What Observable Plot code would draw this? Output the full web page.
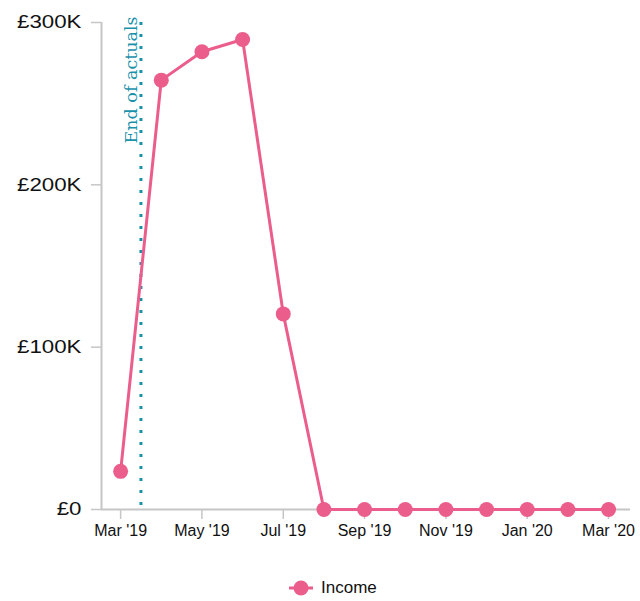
<!DOCTYPE html>
<html>
<head>
<meta charset="utf-8">
<script src="https://cdn.jsdelivr.net/npm/d3@7"></script>
<script src="https://cdn.jsdelivr.net/npm/@observablehq/plot@0.6"></script>
<style>
  html, body { margin: 0; padding: 0; background: #fff; }
  #chart { width: 640px; }
  .legend { display: flex; align-items: center; margin: 26px 0 0 288px; height: 24px;
            font: 17px "Liberation Sans", Arial, sans-serif; color: #111; }
  .legend svg { margin-right: 7px; }
</style>
</head>
<body>
<div id="chart"></div>
<div class="legend">
  <svg width="26" height="18"><line x1="1" x2="25" y1="9" y2="9" stroke="#eb5d8b" stroke-width="3"/><circle cx="13" cy="9" r="7.5" fill="#eb5d8b"/></svg>
  <span>Income</span>
</div>
<script>
// Monthly income, March 2019 to March 2020 (one point per month, evenly spaced)
const months = ["Mar '19", "Apr '19", "May '19", "Jun '19", "Jul '19", "Aug '19", "Sep '19",
                "Oct '19", "Nov '19", "Dec '19", "Jan '20", "Feb '20", "Mar '20"];
const income = [23500, 264500, 282000, 289500, 120500, 0, 0, 0, 0, 0, 0, 0, 0];

// Axis ticks: every other month, and the income scale
const xTickMonths = ["Mar '19", "May '19", "Jul '19", "Sep '19", "Nov '19", "Jan '20", "Mar '20"];
const yTicks = [0, 100000, 200000, 300000];

// Actual figures stop half-way through March 2019
const actualsEndMonth = "Mar '19";
const actualsEndOffset = 0.5;
const actualsLabel = "End of actuals";

const pink = "#eb5d8b";
const teal = "#1a91ab";
const axisGrey = "#c6c6c6";

const monthIndex = m => months.indexOf(m);
const rows = months.map((m, i) => ({month: i, value: income[i]}));
const actualsEnd = monthIndex(actualsEndMonth) + actualsEndOffset;
const xDomain = [-0.47, 12.54];

const chart = Plot.plot({
  width: 640,
  height: 550,
  marginLeft: 101,
  marginRight: 10,
  marginTop: 22,
  marginBottom: 41,
  style: {fontFamily: '"Liberation Sans", Arial, sans-serif', fontSize: "16px", color: "#111", background: "#fff"},
  x: {type: "linear", domain: xDomain},
  y: {domain: [0, 300000]},
  marks: [
    Plot.ruleX([actualsEnd], {stroke: teal, strokeWidth: 3, strokeDasharray: "3,9"}),
    Plot.text([actualsEnd], {
      x: d => d, y: () => 300000, text: () => actualsLabel, rotate: -90,
      textAnchor: "end", lineAnchor: "bottom", dx: -4, dy: -6,
      fill: teal, fontSize: 17.5, fontFamily: '"DejaVu Serif", serif'
    }),
    Plot.axisY({
      ticks: yTicks, tickSize: 10, tickPadding: 10, stroke: axisGrey, strokeWidth: 1.5,
      fill: "#111", fontSize: 18, label: null,
      tickFormat: d => d === 0 ? "£0" : `£${d / 1000}K`
    }),
    Plot.axisX({
      ticks: xTickMonths.map(monthIndex), tickSize: 10, tickPadding: 5, stroke: axisGrey, strokeWidth: 1.5,
      fill: "#111", fontSize: 16, label: null,
      tickFormat: i => months[i]
    }),
    Plot.ruleX([xDomain[0]], {stroke: axisGrey, strokeWidth: 2}),
    Plot.ruleY([0], {stroke: axisGrey, strokeWidth: 2}),
    Plot.line(rows, {x: "month", y: "value", stroke: pink, strokeWidth: 3}),
    Plot.dot(rows, {x: "month", y: "value", fill: pink, r: 7.5})
  ]
});

// Widen the y tick labels, keeping their right edges fixed
d3.select(chart).selectAll('g[aria-label="y-axis tick label"] text').each(function () {
  const t = this.getAttribute("transform") || "";
  this.setAttribute("transform", t + " scale(1.24,1)");
});

document.getElementById("chart").appendChild(chart);
</script>
</body>
</html>
